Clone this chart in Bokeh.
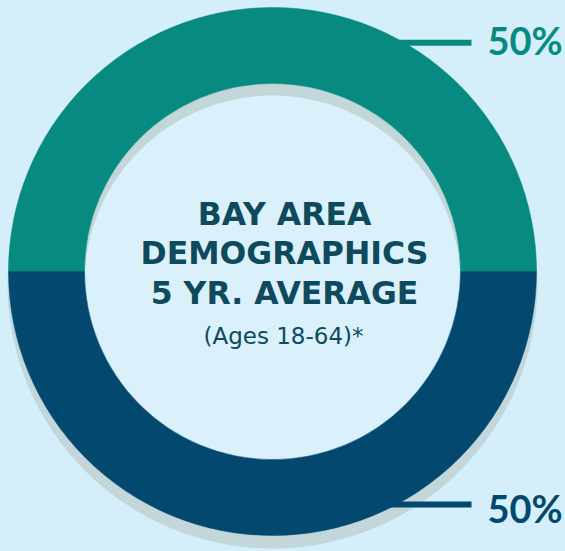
import numpy as np
from bokeh.plotting import figure
from bokeh.models import Range1d, GlobalInlineStyleSheet
from bokeh.core.properties import value
from bokeh.embed import file_html
from bokeh.resources import INLINE

# ---- data ----
segments = ["Group A", "Group B"]
shares = [50, 50]
share_labels = ["50%", "50%"]
title_lines = ["BAY AREA", "DEMOGRAPHICS", "5 YR. AVERAGE"]
subtitle = "(Ages 18-64)*"

# ---- styles ----
seg_colors = ["#078b80", "#03486f"]
bg = "#d4eefa"
hole_color = "#daf1fc"
shadow_color = "#c3d7db"
text_color = "#0e4a5c"
label_angles_deg = [60, -62]

W, H = 565, 551
p = figure(width=W, height=H, output_backend="svg", toolbar_location=None,
           x_range=Range1d(0, W), y_range=Range1d(0, H),
           min_border=0)
p.axis.visible = False
p.grid.visible = False
p.outline_line_color = None
p.background_fill_color = bg
p.border_fill_color = bg
p.stylesheets = [GlobalInlineStyleSheet(css="html, body { background: %s; }" % bg)]

cx, cy = 272, 551 - 271
r_out, r_in = 264, 188

# inner hole
p.circle(x=[cx], y=[cy], radius=r_in, fill_color=hole_color, line_color=None)
# shadow
p.annulus(x=[cx], y=[cy - 12], inner_radius=r_in, outer_radius=r_out + 1,
          fill_color=shadow_color, line_color=None)

# donut wedges
vals = np.array(shares, dtype=float)
ends = np.cumsum(vals) / vals.sum() * 2 * np.pi
starts = np.concatenate([[0], ends[:-1]])
p.annular_wedge(x=cx, y=cy, inner_radius=r_in, outer_radius=r_out,
                start_angle=starts, end_angle=ends,
                fill_color=seg_colors, line_color=seg_colors, line_width=0.5)

# leader lines and labels
for lab, ang, col in zip(share_labels, label_angles_deg, seg_colors):
    a = np.deg2rad(ang)
    x0 = cx + (r_out - 14) * np.cos(a)
    y0 = cy + r_out * np.sin(a)
    p.line(x=[x0, 471], y=[y0, y0], line_color=col, line_width=6)
    p.text(x=[487], y=[y0 - 3 if ang < 0 else y0 + 3], text=[lab],
           text_color=col, text_font=value("Lato"), text_font_style="bold",
           text_font_size="38px", text_baseline="middle", text_align="left")

# center text
tx = 284
base_ys = [551 - 213, 551 - 252, 551 - 292]
p.text(x=[tx] * len(title_lines), y=base_ys, text=title_lines,
       text_color=text_color, text_font=value("DejaVu Sans"), text_font_style="bold",
       text_font_size="31.5px", text_baseline="alphabetic", text_align="center")
p.text(x=[tx - 1], y=[551 - 335], text=[subtitle],
       text_color=text_color, text_font=value("DejaVu Sans"),
       text_font_size="23px", text_baseline="alphabetic", text_align="center")

open("out.html", "w").write(file_html(p, INLINE))
